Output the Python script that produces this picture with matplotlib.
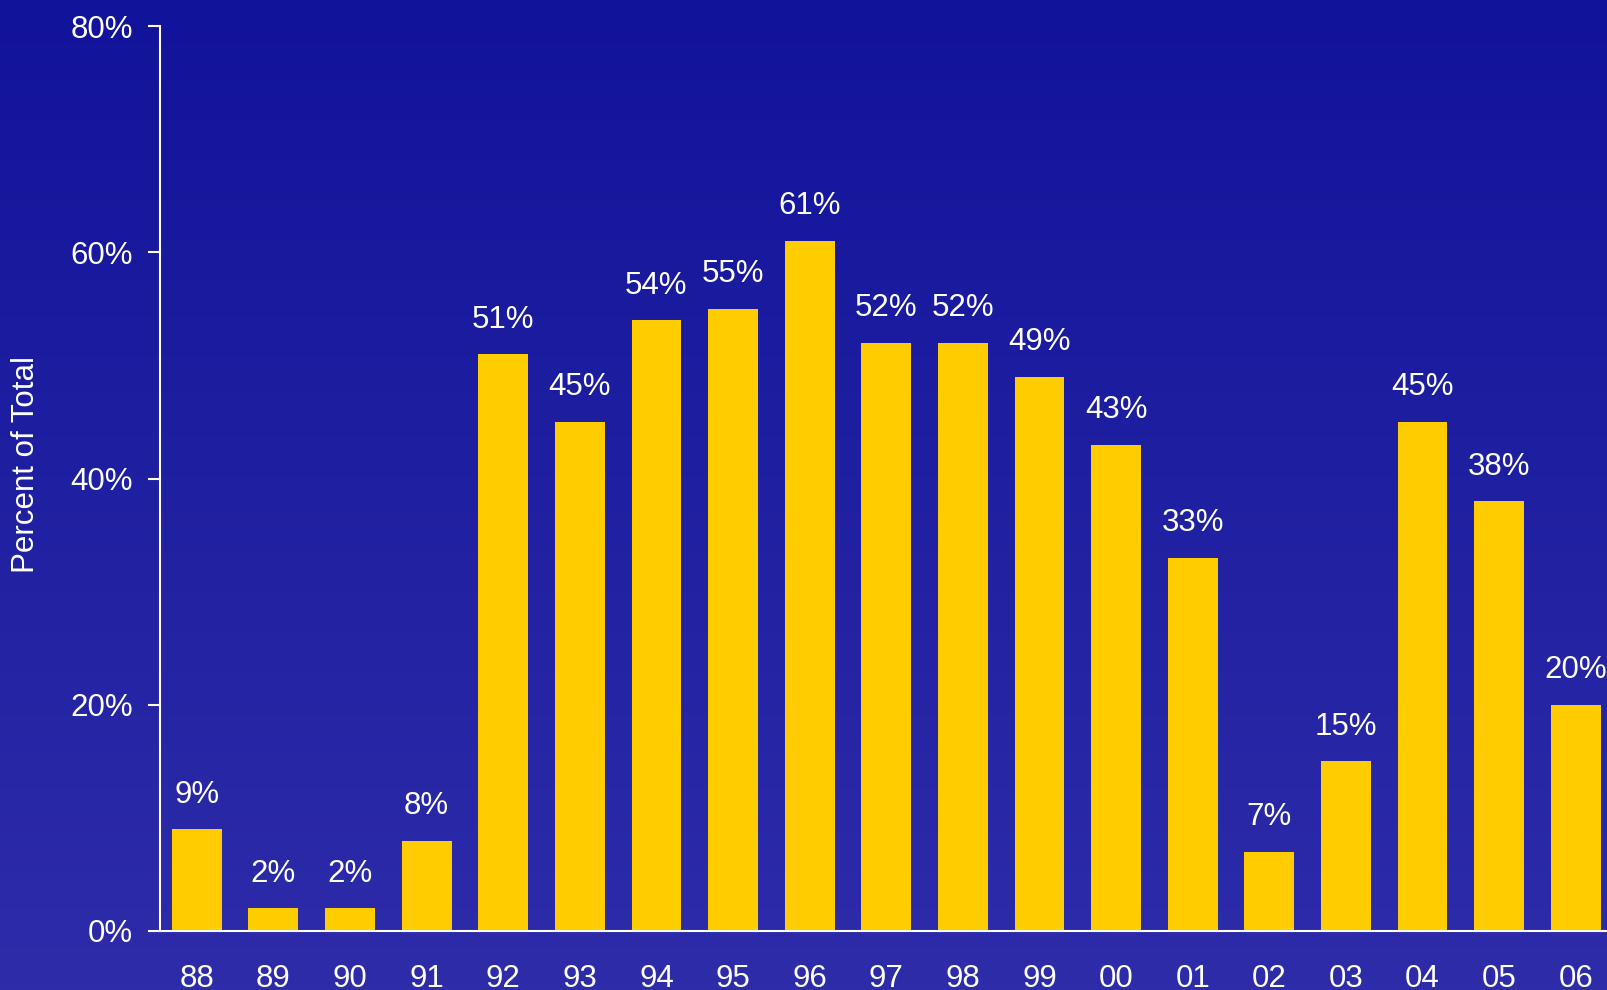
import matplotlib.pyplot as plt
import numpy as np

plt.rcParams['font.family'] = ['Liberation Sans', 'DejaVu Sans']

# data
years = ['88', '89', '90', '91', '92', '93', '94', '95', '96', '97',
         '98', '99', '00', '01', '02', '03', '04', '05', '06']
values = [9, 2, 2, 8, 51, 45, 54, 55, 61, 52, 52, 49, 43, 33, 7, 15, 45, 38, 20]
yticks = [0, 20, 40, 60, 80]

fig = plt.figure(figsize=(16.08, 9.9), dpi=100)

# gradient background
bg = fig.add_axes([0, 0, 1, 1], zorder=-1)
grad = np.linspace(0, 1, 256).reshape(-1, 1)
top = np.array([0x11, 0x13, 0x9a]) / 255
bot = np.array([0x2e, 0x2c, 0xa9]) / 255
img = top + (bot - top) * grad[:, :, None]
bg.imshow(img, aspect='auto', extent=[0, 1, 0, 1])
bg.axis('off')

ax = fig.add_axes([160 / 1608, 1 - 931 / 990, 1 - 160 / 1608, (931 - 26) / 990])
ax.patch.set_alpha(0)

x = np.arange(len(years))
ax.bar(x, values, width=0.65, color='#FFCC00', zorder=2)

for xi, v in zip(x, values):
    ax.annotate(f'{v}%', (xi, v), xytext=(0, 14), textcoords='offset points',
                ha='center', va='bottom', color='white', fontsize=22.5)

ax.set_xlim(-0.48, len(years) - 0.58)
ax.set_ylim(0, 80)
ax.set_xticks(x)
ax.set_xticklabels(years)
ax.set_yticks(yticks)
ax.set_yticklabels([f'{t}%' for t in yticks])

for s in ['top', 'right']:
    ax.spines[s].set_visible(False)
for s in ['left', 'bottom']:
    ax.spines[s].set_color('white')
    ax.spines[s].set_linewidth(1.5)

ax.tick_params(axis='y', colors='white', labelsize=22.5, length=8.6, width=1.5, pad=11)
ax.tick_params(axis='x', colors='white', labelsize=22.5, length=0, pad=24)

ax.set_ylabel('Percent of Total', color='white', fontsize=22.5)
ax.yaxis.set_label_coords(-(160 - 41) / 1448, 0.515)

fig.savefig('out.png', dpi=100)
